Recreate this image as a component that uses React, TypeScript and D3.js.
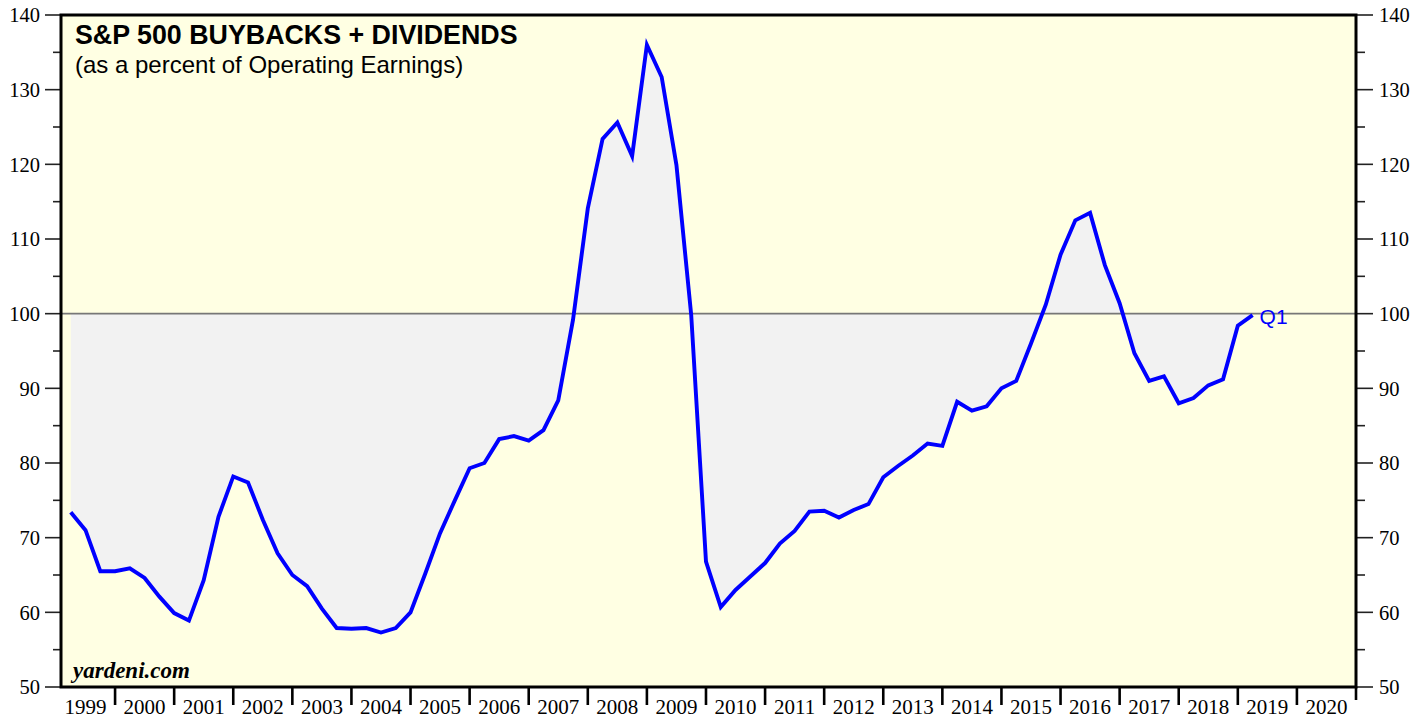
import React from 'react';
import * as d3 from 'd3';

// quarterly, 1999 Q1 .. 2019 Q1
const payoutRatio = [
  73.4, 71.0, 65.5, 65.5,
  65.9, 64.6, 62.1, 59.9,
  58.9, 64.3, 72.8, 78.2,
  77.4, 72.4, 67.9, 65.0,
  63.5, 60.5, 57.9, 57.8,
  57.9, 57.3, 57.9, 60.0,
  65.2, 70.6, 75.0, 79.3,
  80.0, 83.2, 83.6, 83.0,
  84.4, 88.4, 99.2, 114.1,
  123.4, 125.6, 121.1, 136.0,
  131.7, 119.9, 99.8, 66.8,
  60.7, 63.0, 64.8, 66.6,
  69.2, 70.9, 73.5, 73.6,
  72.7, 73.7, 74.5, 78.1,
  79.6, 81.0, 82.6, 82.3,
  88.2, 87.0, 87.6, 90.0,
  91.0, 96.0, 101.2, 107.9,
  112.5, 113.5, 106.5, 101.4,
  94.7, 91.0, 91.6, 88.0,
  88.7, 90.4, 91.2, 98.4,
  99.8,
];
const firstQuarter = 1999.25;

const yearLabels = [
  '1999', '2000', '2001', '2002', '2003', '2004', '2005', '2006', '2007', '2008', '2009',
  '2010', '2011', '2012', '2013', '2014', '2015', '2016', '2017', '2018', '2019', '2020',
];
const yMajor = [50, 60, 70, 80, 90, 100, 110, 120, 130, 140];
const yMinor = [55, 65, 75, 85, 95, 105, 115, 125, 135];

const W = 1427;
const H = 719;
const left = 61, right = 1356, top = 15, bottom = 687;
const sans = "'Liberation Sans', Arial, sans-serif";
const serif = "'Liberation Serif', 'Times New Roman', serif";

export default function App() {
  const x = d3.scaleLinear().domain([1999.085, 2021]).range([left, right]);
  const y = d3.scaleLinear().domain([50, 140]).range([bottom, top]);

  const pts = payoutRatio.map((v, i) => ({ t: firstQuarter + i * 0.25, v }));

  const line = d3.line<any>().x(d => x(d.t)).y(d => y(d.v));
  const area = d3.area<any>().x(d => x(d.t)).y0(y(100)).y1(d => y(d.v));

  const last = pts[pts.length - 1];
  const tickYears = yearLabels.map(l => +l + 1);

  return (
    <svg width={W} height={H} style={{ position: 'absolute', left: 0, top: 0, background: '#fff' }}>
      <rect x={left} y={top} width={right - left} height={bottom - top} fill="#FFFFE3" />
      <path d={area(pts) || ''} fill="#F2F2F2" />
      <line x1={left} x2={right} y1={y(100)} y2={y(100)} stroke="#777" strokeWidth={1.6} />
      <path d={line(pts) || ''} fill="none" stroke="#0000FF" strokeWidth={3.9} strokeLinejoin="miter" />

      <text x={75} y={44} fontFamily={sans} fontWeight="bold" fontSize={26.8}>
        S&amp;P 500 BUYBACKS + DIVIDENDS
      </text>
      <text x={75} y={73} fontFamily={sans} fontSize={24}>
        (as a percent of Operating Earnings)
      </text>
      <text x={73} y={678} fontFamily={serif} fontWeight="bold" fontStyle="italic" fontSize={23}>
        yardeni.com
      </text>
      <text x={x(last.t) + 7} y={y(last.v) + 9} fill="#0000FF" fontFamily={sans} fontSize={21}>
        Q1
      </text>

      {/* y ticks */}
      {yMajor.map(v => (
        <g key={'M' + v}>
          <line x1={45} x2={left} y1={y(v)} y2={y(v)} stroke="#222" strokeWidth={1.6} />
          <line x1={right} x2={1373} y1={y(v)} y2={y(v)} stroke="#222" strokeWidth={1.6} />
          <text x={40} y={y(v)} dy="0.35em" textAnchor="end" fontFamily={serif} fontSize={20.5}>{v}</text>
          <text x={1379} y={y(v)} dy="0.35em" fontFamily={serif} fontSize={20.5}>{v}</text>
        </g>
      ))}
      {yMinor.map(v => (
        <g key={'m' + v}>
          <line x1={53} x2={left} y1={y(v)} y2={y(v)} stroke="#222" strokeWidth={1.6} />
          <line x1={right} x2={1365} y1={y(v)} y2={y(v)} stroke="#222" strokeWidth={1.6} />
        </g>
      ))}

      {/* x ticks & labels */}
      {tickYears.map(t => (
        <line key={'t' + t} x1={x(t)} x2={x(t)} y1={bottom} y2={t === 2021 ? 700 : 705} stroke="#000" strokeWidth={2.6} />
      ))}
      {yearLabels.map(l => (
        <text key={l} x={x(+l + 0.5)} y={714} textAnchor="middle" fontFamily={serif} fontSize={21}>{l}</text>
      ))}

      <rect x={left} y={top} width={right - left} height={bottom - top} fill="none" stroke="#000" strokeWidth={3} />
    </svg>
  );
}
